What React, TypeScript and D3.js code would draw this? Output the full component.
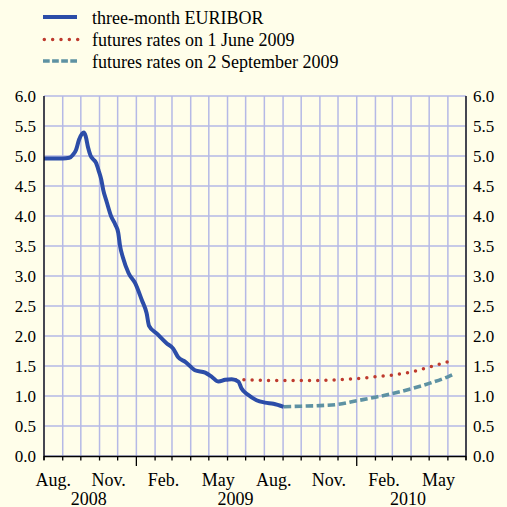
import React from "react";
import * as d3 from "d3";

const euriborDates = [
  "2008-08-01","2008-08-15","2008-09-01","2008-09-12","2008-09-18","2008-09-23","2008-09-28",
  "2008-10-03","2008-10-06","2008-10-09","2008-10-13","2008-10-17","2008-10-22","2008-10-26",
  "2008-10-31","2008-11-04","2008-11-07","2008-11-13","2008-11-20","2008-11-27","2008-12-02",
  "2008-12-05","2008-12-10","2008-12-19","2008-12-30","2009-01-10","2009-01-18","2009-01-22",
  "2009-02-04","2009-02-20","2009-03-03","2009-03-11","2009-03-23","2009-04-08","2009-04-25",
  "2009-05-06","2009-05-17","2009-05-28","2009-06-08","2009-06-19","2009-06-24","2009-07-05",
  "2009-07-19","2009-08-02","2009-08-16","2009-09-02"
];
const euriborValues = [
  4.96,4.96,4.96,4.97,5.02,5.10,5.27,
  5.37,5.39,5.33,5.14,5.01,4.94,4.89,
  4.74,4.60,4.44,4.23,4.00,3.86,3.72,
  3.50,3.30,3.05,2.88,2.60,2.38,2.17,
  2.04,1.88,1.79,1.65,1.57,1.43,1.39,
  1.32,1.24,1.27,1.28,1.24,1.13,1.02,
  0.93,0.89,0.87,0.82
];

const juneDates = [
  "2009-06-01","2009-07-01","2009-08-01","2009-09-01","2009-10-01","2009-11-01","2009-12-01",
  "2010-01-01","2010-02-01","2010-03-01","2010-04-01","2010-05-01","2010-06-01"
];
const juneValues = [1.27,1.27,1.26,1.26,1.26,1.26,1.27,1.29,1.32,1.35,1.40,1.48,1.57];

const septDates = [
  "2009-09-02","2009-10-01","2009-11-01","2009-12-01","2010-01-01","2010-02-01","2010-03-01",
  "2010-04-01","2010-05-01","2010-06-01","2010-06-12"
];
const septValues = [0.82,0.83,0.84,0.86,0.92,0.98,1.04,1.12,1.21,1.32,1.37];

const yTicks = [0, 0.5, 1, 1.5, 2, 2.5, 3, 3.5, 4, 4.5, 5, 5.5, 6];
const monthLabels = ["Aug.", "Nov.", "Feb.", "May", "Aug.", "Nov.", "Feb.", "May"];
const monthLabelDates = ["2008-08-01","2008-11-01","2009-02-01","2009-05-01","2009-08-01","2009-11-01","2010-02-01","2010-05-01"];
const yearLabels = ["2008", "2009", "2010"];
const yearLabelDates = ["2008-10-14","2009-06-14","2010-03-27"];

const legendLabels = [
  "three-month EURIBOR",
  "futures rates on 1 June 2009",
  "futures rates on 2 September 2009",
];

const BG = "#FFFEEA";
const GRID = "#B5B9E6";
const BLUE = "#2C4DA8";
const RED = "#BE3A2E";
const TEAL = "#5E92A3";
const FONT = "Liberation Serif";

const parse = d3.utcParse("%Y-%m-%d");

export default function App() {
  const W = 507, H = 507;
  const left = 44, right = 466, top = 96, bottom = 456;

  const x = d3.scaleUtc()
    .domain([parse("2008-08-01")!, parse("2010-07-01")!])
    .range([left, right]);
  const y = d3.scaleLinear().domain([0, 6]).range([bottom, top]);

  const months = d3.utcMonth.range(parse("2008-08-01")!, parse("2010-07-02")!);

  const mk = (dates: string[], vals: number[]) =>
    dates.map((d, i) => ({ d: parse(d)!, v: vals[i] }));

  const line = d3.line<{ d: Date; v: number }>()
    .x((p) => x(p.d))
    .y((p) => y(p.v))
    .curve(d3.curveMonotoneX);

  const blue = mk(euriborDates, euriborValues);
  const red = mk(juneDates, juneValues);
  const teal = mk(septDates, septValues);

  const midMonth = (s: string) => {
    const a = parse(s)!;
    const b = d3.utcMonth.offset(a, 1);
    return (x(a) + x(b)) / 2;
  };

  const legendY = [17, 39.5, 61];

  return (
    <svg width={W} height={H} style={{ position: "absolute", left: 0, top: 0, background: BG, fontFamily: FONT }}>
      <rect x={0} y={0} width={W} height={H} fill={BG} />
      {yTicks.map((t) => (
        <line key={"h" + t} x1={left} x2={right} y1={y(t)} y2={y(t)} stroke={GRID} strokeWidth={1.5} />
      ))}
      {months.map((m, i) => (
        <line key={"v" + i} x1={x(m)} x2={x(m)} y1={top} y2={bottom} stroke={GRID} strokeWidth={1.5} />
      ))}
      <path d={line(red)!} fill="none" stroke={RED} strokeWidth={3.5} strokeLinecap="round" strokeDasharray="0 8.2" />
      <path d={line(blue)!} fill="none" stroke={BLUE} strokeWidth={4} strokeLinejoin="round" />
      <path d={line(teal)!} fill="none" stroke={TEAL} strokeWidth={3.6} strokeDasharray="7.5 3.5" />
      <line x1={left} x2={left} y1={top} y2={bottom + 4} stroke="#000" strokeWidth={1.3} />
      <line x1={right} x2={right} y1={top} y2={bottom + 4} stroke="#000" strokeWidth={1.3} />
      <line x1={left} x2={right} y1={bottom + 0.5} y2={bottom + 0.5} stroke="#000" strokeWidth={1.3} />
      {months.map((m, i) => {
        const isYear = m.getUTCMonth() === 0;
        return (
          <line key={"t" + i} x1={x(m)} x2={x(m)} y1={bottom} y2={bottom + (isYear ? 10 : 4.5)} stroke="#000" strokeWidth={1.3} />
        );
      })}
      {yTicks.map((t) => (
        <g key={"yl" + t} fontFamily={FONT} fontSize={17} fill="#000">
          <text x={36} y={y(t)} dy="0.35em" textAnchor="end">{t.toFixed(1)}</text>
          <text x={473} y={y(t)} dy="0.35em" textAnchor="start">{t.toFixed(1)}</text>
        </g>
      ))}
      {monthLabels.map((l, i) => (
        <text key={"ml" + i} x={midMonth(monthLabelDates[i])} y={486} textAnchor="middle" fontFamily={FONT} fontSize={18} fill="#000">{l}</text>
      ))}
      {yearLabels.map((l, i) => (
        <text key={"yr" + i} x={x(parse(yearLabelDates[i])!)} y={504.5} textAnchor="middle" fontFamily={FONT} fontSize={18} fill="#000">{l}</text>
      ))}
      <line x1={43} x2={77} y1={legendY[0]} y2={legendY[0]} stroke={BLUE} strokeWidth={4} />
      <line x1={44.3} x2={78} y1={legendY[1]} y2={legendY[1]} stroke={RED} strokeWidth={3.5} strokeLinecap="round" strokeDasharray="0 8.35" />
      <line x1={43} x2={77} y1={legendY[2]} y2={legendY[2]} stroke={TEAL} strokeWidth={3.6} strokeDasharray="6.7 2.4" />
      {legendLabels.map((l, i) => (
        <text key={"lg" + i} x={92} y={legendY[i] + 6.5} fontFamily={FONT} fontSize={18} fill="#000">{l}</text>
      ))}
    </svg>
  );
}
